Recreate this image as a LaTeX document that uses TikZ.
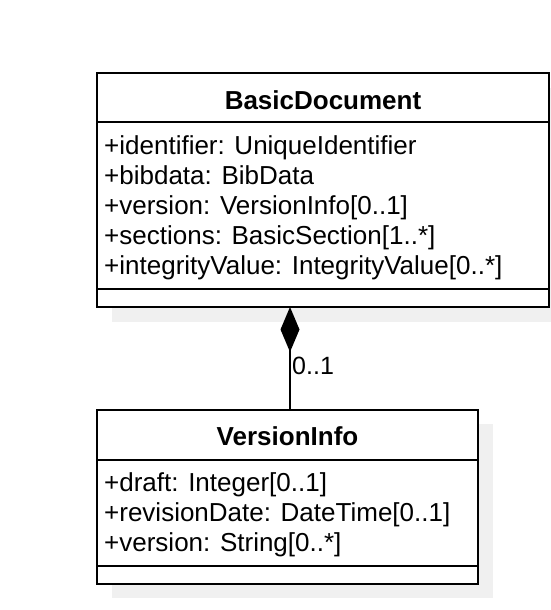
\documentclass[tikz,border=0pt]{standalone}
\usepackage{fontspec}
\setmainfont{Liberation Sans}
\usetikzlibrary{arrows.meta}
\definecolor{shadowgray}{RGB}{240,240,240}
\begin{document}
\begin{tikzpicture}[x=1pt,y=-1pt,
  classbox/.style={draw=black, line width=2pt, fill=white, inner sep=0pt, outer sep=0pt, anchor=north west},
  shadowbox/.style={fill=shadowgray, draw=none, inner sep=0pt, outer sep=0pt, anchor=north west},
  classtitle/.style={font=\fontsize{26}{30}\selectfont\bfseries, anchor=base, inner sep=0pt},
  attr/.style={font=\fontsize{26}{30}\selectfont, anchor=base west, inner sep=0pt},
  sepline/.style={line width=2pt},
  comp/.style={line width=2pt, {Diamond[length=45pt,width=19pt]}-}
]
\useasboundingbox (0,0) rectangle (550,610);

% BasicDocument
\node[shadowbox, minimum width=452pt, minimum height=234pt] (bdshadow) at (112,88) {};
\node[classbox, minimum width=452pt, minimum height=234pt] (bd) at (97,73) {};
\draw[sepline] ([yshift=-49pt]bd.north west) -- ([yshift=-49pt]bd.north east);
\draw[sepline] ([yshift=18pt]bd.south west) -- ([yshift=18pt]bd.south east);
\node[classtitle] (bdtitle) at (323,109) {BasicDocument};
\node[attr] (bda1) at (104,154) {+identifier: UniqueIdentifier};
\node[attr] (bda2) at (104,184) {+bibdata: BibData};
\node[attr] (bda3) at (104,214) {+version: VersionInfo[0..1]};
\node[attr] (bda4) at (104,244) {+sections: BasicSection[1..*]};
\node[attr] (bda5) at (104,274) {+integrityValue: IntegrityValue[0..*]};

% VersionInfo
\node[shadowbox, minimum width=381pt, minimum height=174pt] (vishadow) at (112,424) {};
\node[classbox, minimum width=381pt, minimum height=174pt] (vi) at (97,410) {};
\draw[sepline] ([yshift=-50pt]vi.north west) -- ([yshift=-50pt]vi.north east);
\draw[sepline] ([yshift=18pt]vi.south west) -- ([yshift=18pt]vi.south east);
\node[classtitle] (vititle) at (287.5,445) {VersionInfo};
\node[attr] (via1) at (104,491) {+draft: Integer[0..1]};
\node[attr] (via2) at (104,521) {+revisionDate: DateTime[0..1]};
\node[attr] (via3) at (104,551) {+version: String[0..*]};

% composition
\path ([xshift=2.5pt]vi.north) coordinate (vt);
\draw[comp] (bd.south -| vt) -- (vt);
\node[attr, font=\fontsize{25}{30}\selectfont] (mult) at (292,374) {0..1};
\end{tikzpicture}
\end{document}
